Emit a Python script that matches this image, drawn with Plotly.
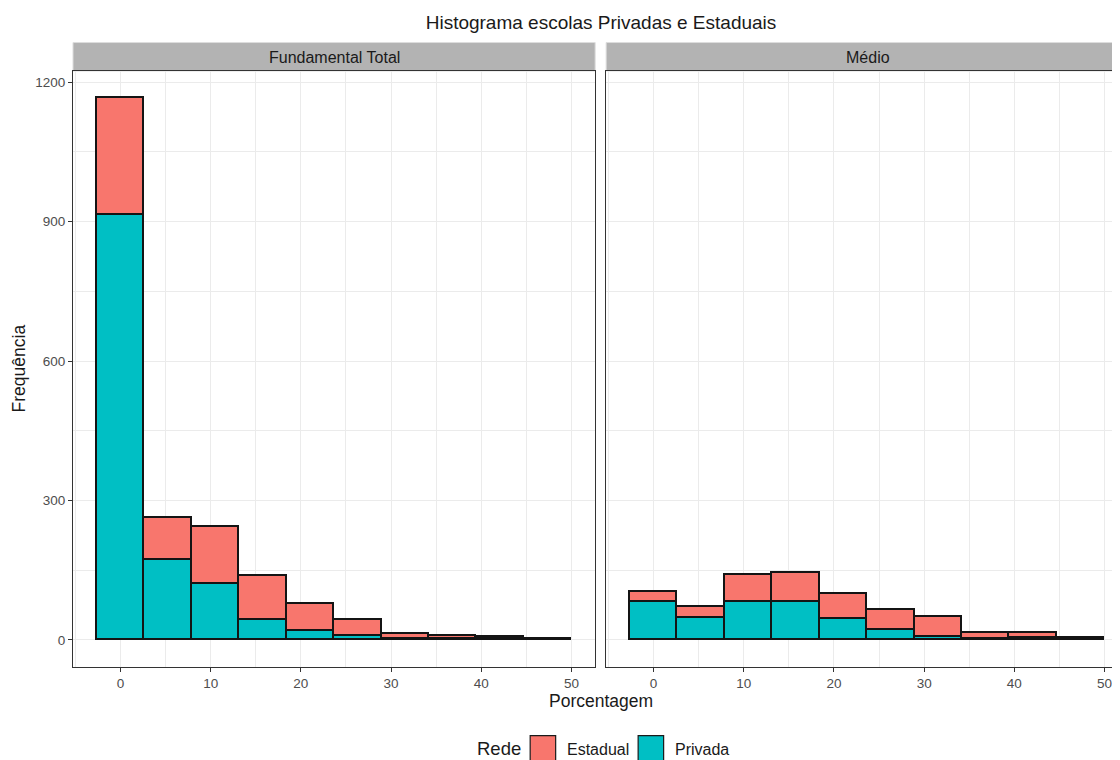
import plotly.graph_objects as go

# ---- data ----
bin_centers = [0, 5.263, 10.526, 15.789, 21.053, 26.316, 31.579, 36.842, 42.105, 47.368]
bin_width = 5.263
fund_privada = [915, 173, 120, 43, 20, 9, 3, 1, 1, 1]
fund_estadual = [251, 89, 122, 94, 58, 33, 9, 8, 5, 2]
medio_privada = [81, 48, 81, 81, 46, 21, 6, 1, 5, 2]
medio_estadual = [23, 23, 58, 62, 52, 43, 43, 13, 9, 3]
x_ticks = [0, 10, 20, 30, 40, 50]
y_ticks = [0, 300, 600, 900, 1200]
panels = ["Fundamental Total", "Médio"]
series_names = ["Estadual", "Privada"]
col_estadual = "#F8766D"
col_privada = "#00BFC4"

# the page places the figure 8px from the top-left corner; work in reference pixels
OFF = 8
W, H = 1120 - OFF, 760 - OFF
ml, mr, mt, mb = 72.7 - OFF, 0, 70.5 - OFF, 760 - 667.3
pw = W - ml - mr
ph = H - mt - mb


def px_x(p):
    return (p - OFF - ml) / pw


def px_y(p):
    return (H - mb - (p - OFF)) / ph


fig = go.Figure()
line = dict(color="#141414", width=1.7)
for xa, ya, priv, est in [("x", "y", fund_privada, fund_estadual),
                          ("x2", "y2", medio_privada, medio_estadual)]:
    fig.add_trace(go.Bar(x=bin_centers, y=priv, width=bin_width, name="Privada",
                         marker=dict(color=col_privada, line=line),
                         xaxis=xa, yaxis=ya, showlegend=False))
    fig.add_trace(go.Bar(x=bin_centers, y=est, width=bin_width, name="Estadual",
                         marker=dict(color=col_estadual, line=line),
                         xaxis=xa, yaxis=ya, showlegend=False))

ymax = fund_privada[0] + fund_estadual[0]
yrange = [-0.05 * ymax, 1.05 * ymax]
xlo = bin_centers[0] - bin_width / 2
xhi = bin_centers[-1] + bin_width / 2
xpad = 0.05 * (xhi - xlo)
xr1 = [xlo - xpad, xhi + xpad]
d1 = [0, px_x(595)]
d2 = [px_x(606), 1]
scale = (d1[1] - d1[0]) * pw / (xr1[1] - xr1[0])
xr2 = [xr1[0], xr1[0] + (d2[1] - d2[0]) * pw / scale]

grid = "#EBEBEB"
FONT = "Liberation Sans, Arial, sans-serif"
axis_common = dict(showgrid=True, gridcolor=grid, gridwidth=1.1, zeroline=False,
                   ticklen=4, tickcolor="#333333", tickwidth=1,
                   tickfont=dict(family=FONT, size=13.5, color="#4D4D4D"),
                   linecolor="#333333", linewidth=1.1, showline=True)
minor_x = dict(dtick=5, showgrid=True, gridcolor=grid, gridwidth=0.6)
minor_y = dict(dtick=150, showgrid=True, gridcolor=grid, gridwidth=0.6)

fig.update_layout(
    width=W, height=H,
    margin=dict(l=ml, r=mr, t=mt, b=mb, autoexpand=False),
    paper_bgcolor="white", plot_bgcolor="white",
    barmode="stack", bargap=0,
    font=dict(family=FONT, color="#1A1A1A"),
    title=dict(text="Histograma escolas Privadas e Estaduais",
               x=(601 - OFF) / W, xanchor="center",
               y=1 - (22 - OFF) / H, yanchor="middle",
               font=dict(size=19, color="#1A1A1A")),
    xaxis=dict(domain=d1, range=xr1, tickvals=x_ticks, mirror=True, ticks="outside",
               minor=minor_x, **axis_common),
    xaxis2=dict(domain=d2, range=xr2, tickvals=x_ticks, anchor="y2", mirror=True,
                ticks="outside", minor=minor_x, **axis_common),
    yaxis=dict(range=yrange, tickvals=y_ticks, mirror=True, ticks="outside",
               minor=minor_y, **axis_common),
    yaxis2=dict(range=yrange, tickvals=y_ticks, anchor="x2", showticklabels=False,
                mirror=False, ticks="", minor=minor_y, **axis_common),
)

shapes = []
annotations = []
# facet strips
strip_centers = [(72.7 + 595) / 2, (606 + 1130) / 2]
for name, d, xc in zip(panels, [d1, d2], strip_centers):
    shapes.append(dict(type="rect", xref="paper", yref="paper", x0=d[0], x1=d[1],
                       y0=px_y(70.5), y1=px_y(42), fillcolor="#B3B3B3",
                       line=dict(color="#DDDDDD", width=1), layer="below"))
    annotations.append(dict(text=name, xref="paper", yref="paper", x=px_x(xc), y=px_y(57),
                            showarrow=False, xanchor="center", yanchor="middle",
                            font=dict(size=16, color="#1A1A1A")))

# axis titles
annotations.append(dict(text="Porcentagem", xref="paper", yref="paper", x=px_x(601), y=px_y(701),
                        showarrow=False, xanchor="center", yanchor="middle",
                        font=dict(size=17.5, color="#1A1A1A")))
annotations.append(dict(text="Frequência", xref="paper", yref="paper", x=px_x(19), y=px_y(368),
                        showarrow=False, xanchor="center", yanchor="middle", textangle=-90,
                        font=dict(size=17.5, color="#1A1A1A")))

# legend (ggplot-style, bottom)
annotations.append(dict(text="Rede", xref="paper", yref="paper", x=px_x(475), y=px_y(749),
                        showarrow=False, xanchor="left", yanchor="middle",
                        font=dict(size=18.5, color="#1A1A1A")))
for lab, col, bx, tx in [(series_names[0], col_estadual, 530, 565),
                         (series_names[1], col_privada, 638, 673)]:
    shapes.append(dict(type="rect", xref="paper", yref="paper", x0=px_x(bx), x1=px_x(bx + 25.5),
                       y0=px_y(763), y1=px_y(736), fillcolor=col,
                       line=dict(color="#1A1A1A", width=1.2)))
    annotations.append(dict(text=lab, xref="paper", yref="paper", x=px_x(tx), y=px_y(750),
                            showarrow=False, xanchor="left", yanchor="middle",
                            font=dict(size=16, color="#1A1A1A")))

fig.update_layout(shapes=shapes, annotations=annotations)
fig.write_html("out.html")
